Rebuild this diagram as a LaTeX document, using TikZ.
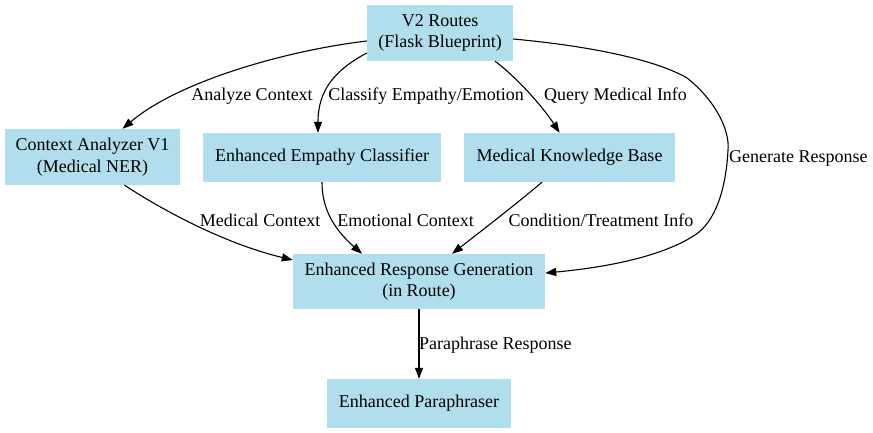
\documentclass[tikz,border=0pt]{standalone}
\usepackage{fontspec}
\setmainfont{Liberation Serif}
\usetikzlibrary{arrows.meta}
\definecolor{boxblue}{RGB}{176,222,236}
\begin{document}
\begin{tikzpicture}[x=1pt,y=1pt,
  box/.style={rectangle,fill=boxblue,inner sep=0pt,align=center,font=\fontsize{18}{21.6}\selectfont},
  lbl/.style={inner sep=0pt,font=\fontsize{18}{21.6}\selectfont},
  edge/.style={line width=1.1pt,-{Triangle[length=11pt,width=8pt]}}]
\useasboundingbox (0,0) rectangle (873,-433);
\node[box,minimum width=146,minimum height=56] (v2) at (440,-33) {V2 Routes\\(Flask Blueprint)};
\node[box,minimum width=175,minimum height=56] (ctx) at (92.5,-157) {Context Analyzer V1\\(Medical NER)};
\node[box,minimum width=238,minimum height=49] (emp) at (322,-157.5) {Enhanced Empathy Classifier};
\node[box,minimum width=211,minimum height=49] (mkb) at (569.5,-157.5) {Medical Knowledge Base};
\node[box,minimum width=252,minimum height=55] (rg) at (419,-281.5) {Enhanced Response Generation\\(in Route)};
\node[box,minimum width=184,minimum height=49] (par) at (419,-403.5) {Enhanced Paraphraser};

\draw[edge] ([yshift=-8]v2.west) .. controls (290,-50) and (180,-80) .. ([xshift=30]ctx.north);
\draw[edge] ([yshift=-20]v2.west) .. controls (335,-70) and (318,-90) .. ([xshift=-4]emp.north);
\draw[edge] ([xshift=55]v2.south) .. controls (520,-80) and (545,-110) .. ([xshift=-10]mkb.north);
\draw[edge] ([yshift=-6]v2.east) .. controls (600,-47) and (660,-62) .. (687,-78)
  .. controls (715,-100) and (730,-130) .. (728,-150)
  .. controls (726,-190) and (715,-222) .. (695,-235)
  .. controls (660,-258) and (600,-268) .. ([yshift=8.5]rg.east);
\draw[edge] ([xshift=32]ctx.south) .. controls (170,-215) and (230,-245) .. ([yshift=21.5]rg.west);
\draw[edge] (emp.south) .. controls (322,-210) and (335,-230) .. ([xshift=-57]rg.north);
\draw[edge] ([xshift=-27.5]mkb.south) .. controls (515,-205) and (480,-232) .. ([xshift=33]rg.north);
\draw[edge] (rg.south) -- (par.north);

\node[lbl] (l1) at (252,-96) {Analyze Context};
\node[lbl] (l2) at (426,-96) {Classify Empathy/Emotion};
\node[lbl] (l3) at (615.5,-96) {Query Medical Info};
\node[lbl,anchor=west] (l4) at (729,-158) {Generate Response};
\node[lbl] (l5) at (260,-220) {Medical Context};
\node[lbl] (l6) at (405.5,-220) {Emotional Context};
\node[lbl] (l7) at (601,-220) {Condition/Treatment Info};
\node[lbl,anchor=west] (l8) at (419,-345) {Paraphrase Response};
\end{tikzpicture}
\end{document}
